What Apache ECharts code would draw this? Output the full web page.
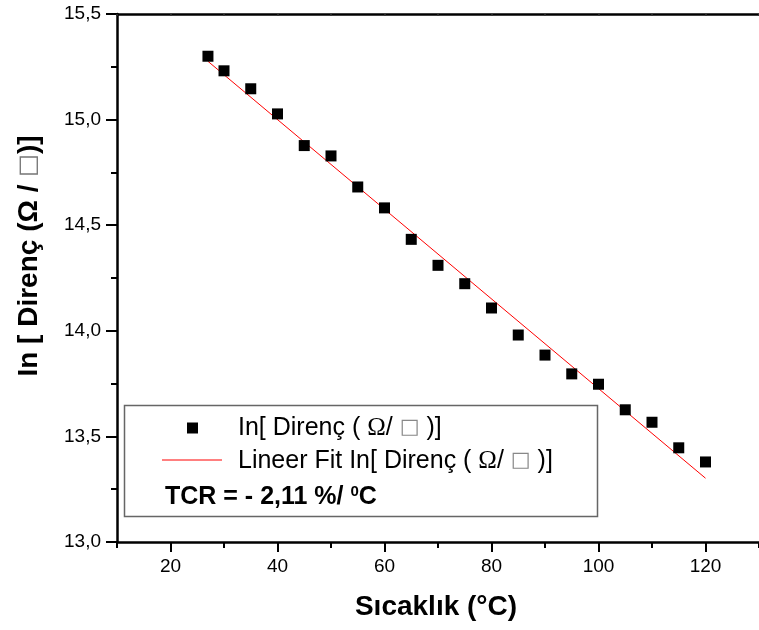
<!DOCTYPE html>
<html>
<head>
<meta charset="utf-8">
<script src="https://cdn.jsdelivr.net/npm/echarts@6/dist/echarts.min.js"></script>
<style>
html,body{margin:0;padding:0;background:#fff;}
#chart{width:759px;height:630px;}
</style>
</head>
<body>
<div id="chart"></div>
<script>
// Data
const temperatures = [27, 30, 35, 40, 45, 50, 55, 60, 65, 70, 75, 80, 85, 90, 95, 100, 105, 110, 115, 120];
const lnResistance = [15.300, 15.231, 15.146, 15.027, 14.877, 14.828, 14.681, 14.582, 14.433, 14.310,
                      14.223, 14.108, 13.980, 13.885, 13.796, 13.747, 13.626, 13.567, 13.446, 13.379];
const fitX = [27, 120];
const fitY = [15.276, 13.302];
const xLabelValues = [20, 40, 60, 80, 100, 120];
const yTicks = [13.0, 13.5, 14.0, 14.5, 15.0, 15.5];

const FONT = "'Liberation Sans', Arial, sans-serif";
const SERIF = "'Liberation Serif', 'Times New Roman', serif";

const scatterData = temperatures.map((t, i) => [t, lnResistance[i]]);
const fitData = fitX.map((t, i) => [t, fitY[i]]);

const chart = echarts.init(document.getElementById('chart'), null, {renderer: 'canvas'});

const axisLine = {show: true, lineStyle: {color: '#000', width: 2.5}};

chart.setOption({
  backgroundColor: '#fff',
  animation: false,
  grid: {left: 117, top: 14, width: 648, height: 528, containLabel: false},
  xAxis: [
    {
      type: 'value', position: 'bottom', min: 10, max: 130, interval: 20,
      axisLine: axisLine,
      axisTick: {show: true, inside: false, length: 6, lineStyle: {color: '#000', width: 2}},
      minorTick: {show: true, splitNumber: 2, length: 10, lineStyle: {color: '#000', width: 2}},
      axisLabel: {show: true, customValues: xLabelValues, margin: 15, color: '#000', fontSize: 19, fontFamily: FONT},
      splitLine: {show: false}, minorSplitLine: {show: false}
    },
    {
      type: 'value', position: 'top', min: 10, max: 130, interval: 10,
      axisLine: axisLine,
      axisTick: {show: true, inside: true, length: 2, lineStyle: {color: '#333', width: 1.5}},
      axisLabel: {show: false}, splitLine: {show: false}
    }
  ],
  yAxis: {
    type: 'value', min: yTicks[0], max: yTicks[yTicks.length - 1], interval: 0.5,
    axisLine: axisLine,
    axisTick: {show: true, inside: false, length: 11, lineStyle: {color: '#000', width: 2}},
    minorTick: {show: true, splitNumber: 2, length: 6, lineStyle: {color: '#000', width: 2}},
    axisLabel: {show: true, margin: 16, color: '#000', fontSize: 19, fontFamily: FONT,
      formatter: v => v.toFixed(1).replace('.', ',')},
    splitLine: {show: false}
  },
  series: [
    {
      name: 'In[ Direnç ( Ω/ □)]', type: 'scatter', xAxisIndex: 0, data: scatterData,
      symbol: 'rect', symbolSize: 11, itemStyle: {color: '#000', opacity: 1}, z: 3
    },
    {
      name: 'Lineer Fit', type: 'line', xAxisIndex: 0, data: fitData,
      showSymbol: false, symbol: 'none', lineStyle: {color: '#ff0000', width: 1}, z: 2
    }
  ],
  graphic: [
    {
      type: 'text', x: 29, y: 256, rotation: Math.PI / 2,
      style: {
        text: '{a|In [ Direnç (Ω / }{b|□}{a|)]}',
        align: 'center', verticalAlign: 'middle',
        rich: {
          a: {fontSize: 28, fontWeight: 'bold', fontFamily: FONT, fill: '#000'},
          b: {fontSize: 24, fontWeight: 'normal', fontFamily: "'DejaVu Sans', sans-serif", fill: '#777'}
        }
      }
    },
    {
      type: 'text', x: 436, y: 607,
      style: {
        text: 'Sıcaklık (°C)', align: 'center', verticalAlign: 'middle',
        fontSize: 28, fontWeight: 'bold', fontFamily: FONT, fill: '#000'
      }
    },
    {
      type: 'rect', z: 100,
      shape: {x: 124.5, y: 405.5, width: 473, height: 111},
      style: {fill: '#fff', stroke: '#666', lineWidth: 1.5}
    },
    {
      type: 'rect', z: 101,
      shape: {x: 187, y: 422.5, width: 11, height: 11},
      style: {fill: '#000'}
    },
    {
      type: 'line', z: 101,
      shape: {x1: 162, y1: 460, x2: 222, y2: 460},
      style: {stroke: '#ff0000', lineWidth: 1}
    },
    {
      type: 'text', z: 101, x: 238, y: 428,
      style: {
        text: '{a|In[ Direnç ( }{o|Ω}{a|/ }{b|□}{a| )]}', verticalAlign: 'middle',
        rich: {
          a: {fontSize: 25, fontFamily: FONT, fill: '#000'},
          o: {fontSize: 25, fontFamily: SERIF, fill: '#000'},
          b: {fontSize: 21, fontFamily: "'DejaVu Sans', sans-serif", fill: '#888'}
        }
      }
    },
    {
      type: 'text', z: 101, x: 238, y: 461,
      style: {
        text: '{a|Lineer Fit In[ Direnç ( }{o|Ω}{a|/ }{b|□}{a| )]}', verticalAlign: 'middle',
        rich: {
          a: {fontSize: 25, fontFamily: FONT, fill: '#000'},
          o: {fontSize: 25, fontFamily: SERIF, fill: '#000'},
          b: {fontSize: 21, fontFamily: "'DejaVu Sans', sans-serif", fill: '#888'}
        }
      }
    },
    {
      type: 'text', z: 101, x: 165, y: 497,
      style: {
        text: '{a|TCR = - 2,11 %/ }{s|0}{a|C}', verticalAlign: 'middle',
        rich: {
          a: {fontSize: 25, fontWeight: 'bold', fontFamily: FONT, fill: '#000'},
          s: {fontSize: 15, fontWeight: 'bold', fontFamily: FONT, fill: '#000', verticalAlign: 'top', padding: [0, 0, 10, 0]}
        }
      }
    }
  ]
});
</script>
</body>
</html>
